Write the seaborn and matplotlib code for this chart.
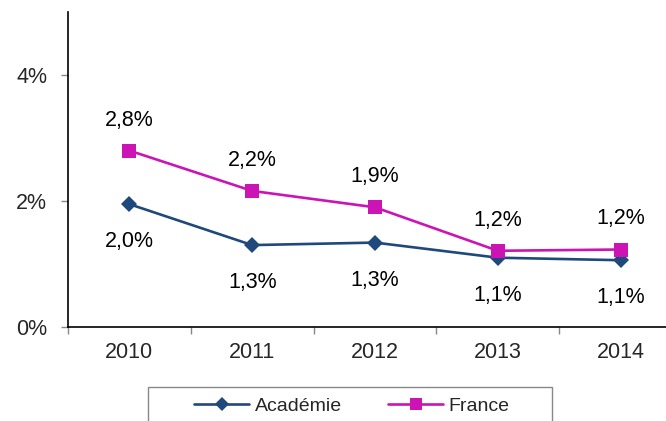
import matplotlib
matplotlib.use("Agg")
import matplotlib.pyplot as plt
import seaborn as sns
import pandas as pd
from matplotlib.patches import Rectangle
from matplotlib.lines import Line2D

years = ["2010", "2011", "2012", "2013", "2014"]
academie = [1.95, 1.30, 1.34, 1.10, 1.06]
france = [2.80, 2.16, 1.90, 1.21, 1.23]
academie_labels = ["2,0%", "1,3%", "1,3%", "1,1%", "1,1%"]
france_labels = ["2,8%", "2,2%", "1,9%", "1,2%", "1,2%"]
yticks = [0, 2, 4]
ytick_labels = ["0%", "2%", "4%"]

sns.set_theme(style="white")
plt.rcParams['font.family'] = ['Liberation Sans', 'DejaVu Sans']

df = pd.DataFrame({
    "idx": list(range(len(years))) * 2,
    "val": academie + france,
    "serie": ["Académie"] * len(years) + ["France"] * len(years),
})

blue = "#1F497D"
mag = "#CC14B4"
FS = 15.5

fig = plt.figure(figsize=(6.66, 4.21), dpi=100)
W, H = 666, 421
x0, x1 = 68, 682
y0, y1 = 327, 12
ax = fig.add_axes([x0 / W, 1 - y0 / H, (x1 - x0) / W, (y0 - y1) / H])

sns.lineplot(data=df, x="idx", y="val", hue="serie", style="serie",
             palette={"Académie": blue, "France": mag},
             markers={"Académie": "D", "France": "s"},
             dashes=False, linewidth=1.9, markersize=10,
             markeredgewidth=0, ax=ax, legend=False)
for line in ax.lines:
    if line.get_marker() == "D":
        line.set_markersize(8.5)

ax.set_xlim(-0.5, 4.5)
ax.set_ylim(0, 5)
ax.set_xlabel("")
ax.set_ylabel("")
ax.set_xticks(range(len(years)))
ax.set_xticklabels(years, fontsize=FS)
ax.set_yticks(yticks)
ax.set_yticklabels(ytick_labels, fontsize=FS)
ax.tick_params(axis="x", length=0, pad=11)
ax.set_xticks([-0.5, 0.5, 1.5, 2.5, 3.5], minor=True)
ax.tick_params(axis="x", which="minor", bottom=True, length=5, width=1, color="#888888", direction="out")
ax.tick_params(axis="y", which="major", left=True, length=5, width=1, color="#888888", direction="out", pad=10)

for s in ["top", "right"]:
    ax.spines[s].set_visible(False)
for s in ["left", "bottom"]:
    ax.spines[s].set_color("black")
    ax.spines[s].set_linewidth(1.2)

for i in range(len(years)):
    ax.annotate(france_labels[i], (i, france[i]), xytext=(0, 22), textcoords="offset points",
                ha="center", va="center", fontsize=FS, color="black")
    ax.annotate(academie_labels[i], (i, academie[i]), xytext=(0, -27), textcoords="offset points",
                ha="center", va="center", fontsize=FS, color="black")

# legend frame
fig.patches.append(Rectangle((148 / W, -0.05), (552 - 148) / W, 0.05 + (H - 387) / H,
                             transform=fig.transFigure, fill=False, edgecolor="#888888",
                             linewidth=1.0))
handles = [Line2D([], [], color=blue, marker="D", markersize=7, linewidth=1.9, markeredgewidth=0),
           Line2D([], [], color=mag, marker="s", markersize=8, linewidth=1.9, markeredgewidth=0)]
fig.legend(handles, ["Académie", "France"], loc="center", bbox_to_anchor=(352 / W, 1 - 406 / H),
           ncol=2, frameon=False, fontsize=14, handlelength=2.8, columnspacing=2.4,
           handletextpad=0.3)

fig.savefig("out.png", dpi=100)
